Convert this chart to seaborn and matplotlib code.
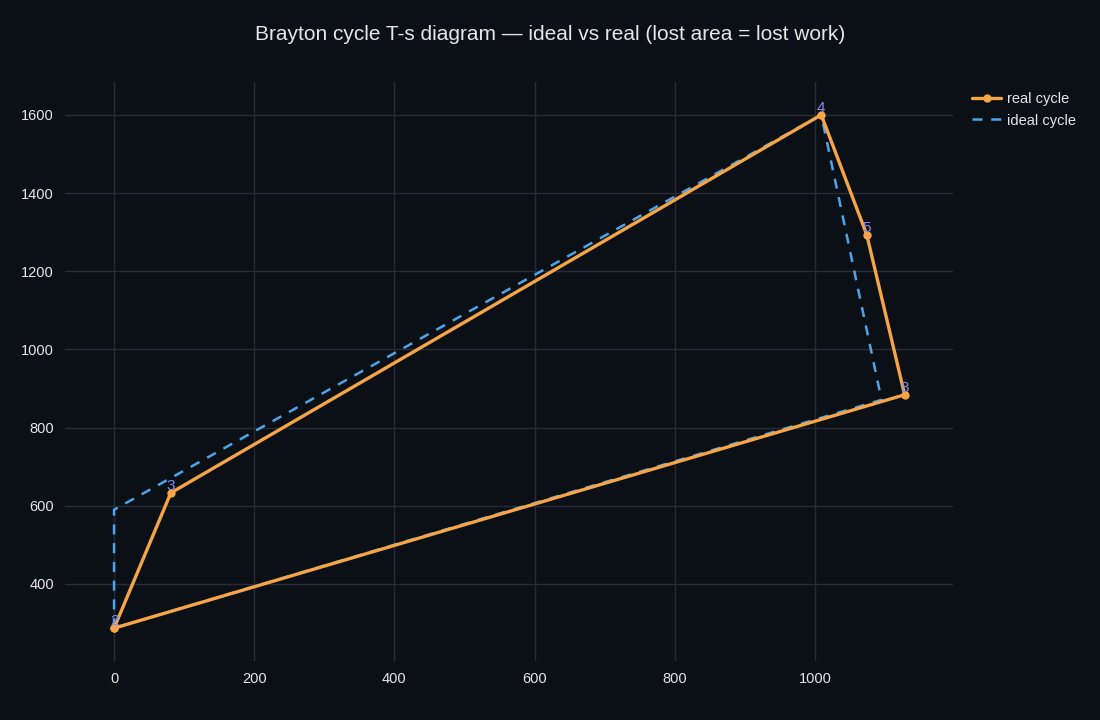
import numpy as np
import pandas as pd
import matplotlib.pyplot as plt
import seaborn as sns

# real cycle states (entropy, temperature)
real_state = ['2', '3', '4', '5', '8', '2']
real_s = [0, 81, 1009, 1074, 1128, 0]
real_T = [287, 633, 1600, 1293, 884, 287]

# ideal cycle
ideal_s = [0, 0, 1009, 1095, 0]
ideal_T = [287, 590, 1600, 871, 287]

bg = '#0b0f16'
grid = '#252c38'
orange = '#f5a548'
blue = '#4ea4e8'
lbl = '#8a8cf2'

sns.set_theme(style='dark')
plt.rcParams['font.family'] = ['Liberation Sans', 'DejaVu Sans']

real = pd.DataFrame({'s': real_s, 'T': real_T, 'state': real_state})
ideal = pd.DataFrame({'s': ideal_s, 'T': ideal_T})

fig = plt.figure(figsize=(11, 7.2), dpi=100, facecolor=bg)
ax = fig.add_axes([65/1100, 1-661/720, (953-65)/1100, (661-82)/720])
ax.set_facecolor(bg)

sns.lineplot(data=real, x='s', y='T', sort=False, estimator=None, ax=ax, color=orange,
             lw=2.4, marker='o', markersize=6, markeredgewidth=0, label='real cycle', zorder=3)
sns.lineplot(data=ideal, x='s', y='T', sort=False, estimator=None, ax=ax, color=blue,
             lw=1.8, label='ideal cycle', zorder=2)
ax.lines[1].set_linestyle((0, (4, 3.5)))

for _, r in real.iloc[:-1].iterrows():
    ax.annotate(r['state'], (r['s'], r['T']), xytext=(0, 0), textcoords='offset points',
                ha='center', va='bottom', color=lbl, fontsize=11, zorder=4)

ax.set_xlim(-70, 1197)
ax.set_ylim(203, 1684)
ax.set_xticks(np.arange(0, 1001, 200))
ax.set_yticks(np.arange(400, 1601, 200))
ax.grid(True, color=grid, lw=1)
ax.set_xlabel('')
ax.set_ylabel('')
for sp in ax.spines.values():
    sp.set_visible(False)
ax.tick_params(colors='#e6e6e6', labelsize=10.5, length=0, pad=8)
for t in ax.get_xticklabels() + ax.get_yticklabels():
    t.set_color('#e6e6e6')

leg = ax.legend(loc='upper left', bbox_to_anchor=(1.01, 1.0), frameon=False,
                fontsize=10.5, handlelength=2.0, handletextpad=0.4, borderaxespad=0.3)
ax.get_legend().get_lines()[1].set_linestyle((0, (4, 3.5)))
for t in leg.get_texts():
    t.set_color('#e6e6e6')

fig.text(0.5, 1-35/720, 'Brayton cycle T-s diagram \u2014 ideal vs real (lost area = lost work)',
         ha='center', va='center', color='#e6e6e6', fontsize=15)

fig.savefig('out.png', dpi=100, facecolor=bg)
